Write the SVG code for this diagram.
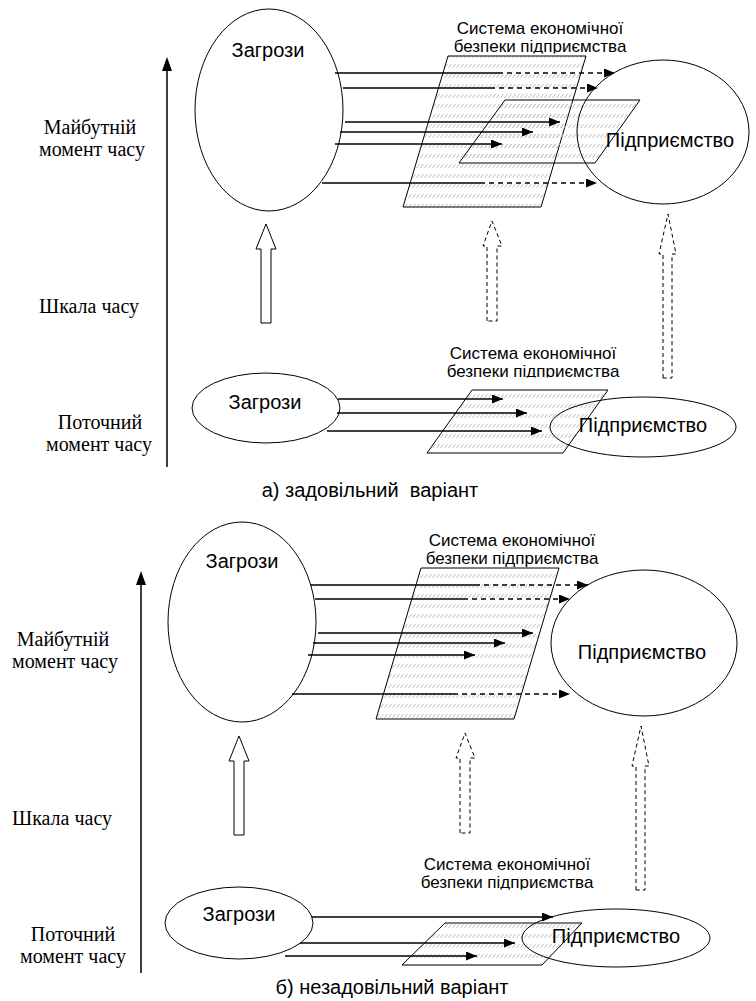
<svg xmlns="http://www.w3.org/2000/svg" width="756" height="1001" viewBox="0 0 756 1001">
<style>
.o{fill:none;stroke:#000;stroke-width:1}
.ln{fill:none;stroke:#000;stroke-width:1.3}
.dash{stroke-dasharray:5 4}
.hd{fill:none;stroke:#000;stroke-width:1;stroke-dasharray:4 3}
.hb{fill:#fff;stroke:#000;stroke-width:1}
.hatch{fill:url(#hatch);stroke:#000;stroke-width:1}
.t{font-family:"Liberation Sans",Arial,sans-serif;fill:#000;font-size:20px;text-anchor:middle}
.lab{font-family:"Liberation Sans",Arial,sans-serif;fill:#000;font-size:17px;text-anchor:middle}
.s{font-family:"Liberation Serif","Times New Roman",serif;font-size:20px;fill:#000;text-anchor:middle}
</style>
<defs>
<pattern id="hatch" width="4" height="10" patternUnits="userSpaceOnUse">
<line x1="0.5" y1="8" x2="3.5" y2="4" stroke="#bdbdbd" stroke-width="1"/>
</pattern>
<marker id="ah" markerWidth="11" markerHeight="9" refX="11" refY="4.5" orient="auto" markerUnits="userSpaceOnUse">
<path d="M0,0 L11,4.5 L0,9 z" fill="#000"/>
</marker>
<clipPath id="c1"><rect x="430" y="0" width="230" height="53.5"/></clipPath>
<clipPath id="c2"><rect x="420" y="330" width="230" height="47.5"/></clipPath>
<clipPath id="c3"><rect x="390" y="840" width="230" height="49.5"/></clipPath>
</defs>

<!-- ===== Variant a ===== -->
<g id="a-axis">
<line class="o" x1="167" y1="467" x2="167" y2="68" style="stroke-width:1.5"/>
<polygon points="167,57 162,71 172,71" fill="#000"/>
<text class="s" x="90" y="134">Майбутній</text>
<text class="s" x="92" y="156">момент часу</text>
<text class="s" x="89" y="313">Шкала часу</text>
<text class="s" x="100" y="429">Поточний</text>
<text class="s" x="99" y="451">момент часу</text>
</g>

<g id="a-threats-future">
<ellipse class="o" cx="269" cy="110" rx="74" ry="101"/>
<text class="t" x="268" y="57">Загрози</text>
</g>

<g id="a-system-future">
<polygon class="hatch" points="448,56 586,56 541,207 403,207"/>
<text class="lab" x="540" y="34">Система економічної</text>
<text class="lab" x="540" y="52" clip-path="url(#c1)">безпеки підприємства</text>
</g>

<g id="a-system-inner">
<polygon class="hatch" points="505,100 640,100 595,163 459,163"/>
</g>

<g id="a-enterprise-future">
<ellipse class="o" cx="663" cy="132" rx="86" ry="72"/>
<text class="t" x="670" y="147">Підприємство</text>
</g>

<g id="a-threats-now">
<ellipse class="o" cx="266" cy="408" rx="74" ry="35"/>
<text class="t" x="265" y="409">Загрози</text>
</g>

<g id="a-system-now">
<polygon class="hatch" points="472,390 608,390 563,453 427,453"/>
<text class="lab" x="533" y="359">Система економічної</text>
<text class="lab" x="533" y="377" clip-path="url(#c2)">безпеки підприємства</text>
</g>

<g id="a-enterprise-now">
<ellipse class="o" cx="643" cy="427" rx="93" ry="30"/>
<text class="t" x="643" y="432">Підприємство</text>
</g>

<text id="a-caption" class="t" x="370" y="497">а) задовільний&#160; варіант</text>

<g id="a-connectors">
<line class="ln" x1="335" y1="73" x2="498" y2="73"/>
<line class="ln dash" x1="498" y1="73" x2="615" y2="73" marker-end="url(#ah)"/>
<line class="ln" x1="343" y1="88" x2="490" y2="88"/>
<line class="ln dash" x1="490" y1="88" x2="598" y2="88" marker-end="url(#ah)"/>
<line class="ln" x1="345" y1="122" x2="560" y2="122" marker-end="url(#ah)"/>
<line class="ln" x1="340" y1="132" x2="533" y2="132" marker-end="url(#ah)"/>
<line class="ln" x1="335" y1="144" x2="502" y2="144" marker-end="url(#ah)"/>
<line class="ln" x1="322" y1="183" x2="480" y2="183"/>
<line class="ln dash" x1="480" y1="183" x2="597" y2="183" marker-end="url(#ah)"/>

<line class="ln" x1="338" y1="399" x2="503" y2="399" marker-end="url(#ah)"/>
<line class="ln" x1="337" y1="413" x2="527" y2="413" marker-end="url(#ah)"/>
<line class="ln" x1="327" y1="431" x2="542" y2="431" marker-end="url(#ah)"/>

<polygon class="hb" points="261,323 261,249 256,249 266,224 276,249 271,249 271,323"/>
<polygon class="hd" points="487,321 487,246 483,246 492,221 502,246 497,246 497,321"/>
<polygon class="hd" points="663,378 663,254 659,254 668,214 676,254 672,254 672,378"/>
</g>

<!-- ===== Variant b ===== -->
<g id="b-axis">
<line class="o" x1="141" y1="973" x2="141" y2="582" style="stroke-width:1.5"/>
<polygon points="141,571 136,585 146,585" fill="#000"/>
<text class="s" x="63" y="646">Майбутній</text>
<text class="s" x="65" y="668">момент часу</text>
<text class="s" x="62" y="825">Шкала часу</text>
<text class="s" x="73" y="941">Поточний</text>
<text class="s" x="73" y="963">момент часу</text>
</g>

<g id="b-threats-future">
<ellipse class="o" cx="242" cy="622" rx="74" ry="100"/>
<text class="t" x="242" y="568">Загрози</text>
</g>

<g id="b-system-future">
<polygon class="hatch" points="421,568 559,568 514,719 376,719"/>
<text class="lab" x="512" y="546">Система економічної</text>
<text class="lab" x="512" y="564">безпеки підприємства</text>
</g>

<g id="b-enterprise-future">
<ellipse class="o" cx="644" cy="643" rx="93" ry="73"/>
<text class="t" x="642" y="659">Підприємство</text>
</g>

<g id="b-threats-now">
<ellipse class="o" cx="239" cy="923" rx="74" ry="36"/>
<text class="t" x="239" y="921">Загрози</text>
</g>

<g id="b-system-now">
<polygon class="hatch" points="445,923 582,923 542,965 402,965"/>
<text class="lab" x="507" y="870">Система економічної</text>
<text class="lab" x="507" y="888" clip-path="url(#c3)">безпеки підприємства</text>
</g>

<g id="b-enterprise-now">
<ellipse class="o" cx="616" cy="938" rx="94" ry="29"/>
<text class="t" x="616" y="943">Підприємство</text>
</g>

<text id="b-caption" class="t" x="392" y="994">б) незадовільний варіант</text>

<g id="b-connectors">
<line class="ln" x1="310" y1="585" x2="475" y2="585"/>
<line class="ln dash" x1="475" y1="585" x2="588" y2="585" marker-end="url(#ah)"/>
<line class="ln" x1="315" y1="599" x2="463" y2="599"/>
<line class="ln dash" x1="463" y1="599" x2="570" y2="599" marker-end="url(#ah)"/>
<line class="ln" x1="318" y1="633" x2="533" y2="633" marker-end="url(#ah)"/>
<line class="ln" x1="313" y1="643" x2="505" y2="643" marker-end="url(#ah)"/>
<line class="ln" x1="308" y1="655" x2="475" y2="655" marker-end="url(#ah)"/>
<line class="ln" x1="292" y1="694" x2="453" y2="694"/>
<line class="ln dash" x1="453" y1="694" x2="570" y2="694" marker-end="url(#ah)"/>

<line class="ln" x1="312" y1="917" x2="553" y2="917" marker-end="url(#ah)"/>
<line class="ln" x1="300" y1="943" x2="515" y2="943" marker-end="url(#ah)"/>
<line class="ln" x1="285" y1="956" x2="477" y2="956" marker-end="url(#ah)"/>

<polygon class="hb" points="234,835 234,761 229,761 239,736 249,761 244,761 244,835"/>
<polygon class="hd" points="460,833 460,758 456,758 465,733 475,758 470,758 470,833"/>
<polygon class="hd" points="636,890 636,766 632,766 641,726 649,766 645,766 645,890"/>
</g>
</svg>
